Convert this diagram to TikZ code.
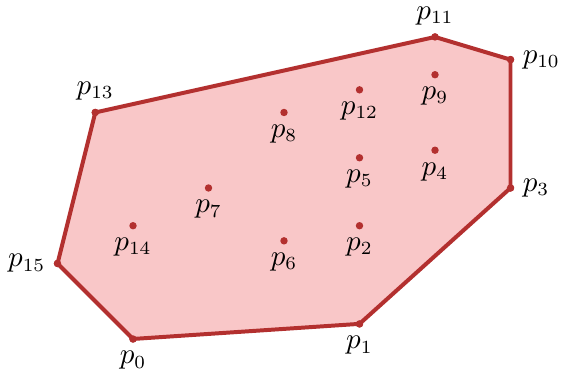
\documentclass[tikz,border=0pt]{standalone}
\usepackage{amsmath,amssymb}
\usepackage{tikz}
\usepackage{xcolor}
\usetikzlibrary{positioning, calc}
\definecolor{HullRed}{HTML}{B3302F}
\definecolor{HullPink}{HTML}{F9C7C8}
\tikzset{
    % Point styles
    hullpt/.style={
        circle,
        fill=HullRed,
        inner sep=0pt,
        minimum size=2.8pt
    },
    innerpt/.style={
        circle,
        fill=HullRed,
        inner sep=0pt,
        minimum size=2.8pt
    },
    % Hull style
    hullline/.style={
        draw=HullRed,
        fill=HullPink,
        line width=1.5pt,
        line join=round
    },
    every label/.append style={
        font=\fontsize{10.5pt}{12pt}\selectfont
    }
}
\begin{document}
\begin{tikzpicture}[label distance=-0.5pt]
    \useasboundingbox (-1.762,-0.424) rectangle (5.669,4.490);

    % Hull points
    \node[hullpt,label=below:$p_{0}$] (p0) at (0,0) {};
    \node[hullpt,label=below:$p_{1}$] (p1) at (3,0.2) {};
    \node[hullpt,label=right:$p_{3}$] (p3) at (5,2) {};
    \node[hullpt,label=right:$p_{10}$] (p10) at (5,3.7) {};
    \node[hullpt,label=above:$p_{11}$] (p11) at (4,4) {};
    \node[hullpt,label=above:$p_{13}$] (p13) at (-0.5,3) {};
    \node[hullpt,label=left:$p_{15}$] (p15) at (-1,1) {};

    % Hull
    \draw[hullline] (p0.center) -- (p1.center) -- (p3.center) -- (p10.center)
        -- (p11.center) -- (p13.center) -- (p15.center) -- cycle;

    % Redraw hull points on top
    \foreach \n in {p0,p1,p3,p10,p11,p13,p15}
        \fill[HullRed] (\n.center) circle (1.4pt);

    % Inner points
    \node[innerpt,label=below:$p_{2}$] (p2) at (3,1.5) {};
    \node[innerpt,label=below:$p_{4}$] (p4) at (4,2.5) {};
    \node[innerpt,label=below:$p_{5}$] (p5) at (3,2.4) {};
    \node[innerpt,label=below:$p_{6}$] (p6) at (2,1.3) {};
    \node[innerpt,label=below:$p_{7}$] (p7) at (1,2) {};
    \node[innerpt,label=below:$p_{8}$] (p8) at (2,3) {};
    \node[innerpt,label=below:$p_{9}$] (p9) at (4,3.5) {};
    \node[innerpt,label=below:$p_{12}$] (p12) at (3,3.3) {};
    \node[innerpt,label=below:$p_{14}$] (p14) at (0,1.5) {};
\end{tikzpicture}
\end{document}
